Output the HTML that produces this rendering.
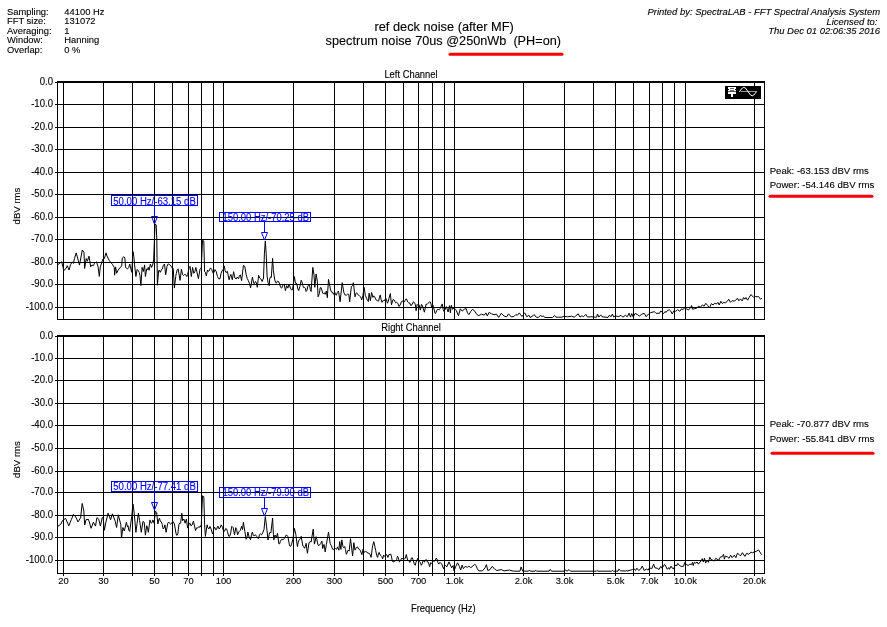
<!DOCTYPE html>
<html><head><meta charset="utf-8"><style>
html,body{margin:0;padding:0;background:#fff;width:887px;height:627px;overflow:hidden}
svg{display:block;will-change:transform}
rect{shape-rendering:crispEdges}
text{stroke-width:0.12px}
</style></head><body>
<svg width="887" height="627" viewBox="0 0 887 627" font-family='"Liberation Sans", sans-serif'><rect x="57" y="81" width="708" height="2" fill="#000"/>
<rect x="57" y="319" width="708" height="1" fill="#000"/>
<rect x="57" y="81" width="1" height="239" fill="#000"/>
<rect x="764" y="81" width="1" height="239" fill="#000"/>
<rect x="57" y="82" width="707" height="1" fill="#000"/>
<rect x="55" y="82" width="2" height="1" fill="#000"/>
<rect x="57" y="104" width="707" height="1" fill="#000"/>
<rect x="55" y="104" width="2" height="1" fill="#000"/>
<rect x="57" y="127" width="707" height="1" fill="#000"/>
<rect x="55" y="127" width="2" height="1" fill="#000"/>
<rect x="57" y="149" width="707" height="1" fill="#000"/>
<rect x="55" y="149" width="2" height="1" fill="#000"/>
<rect x="57" y="172" width="707" height="1" fill="#000"/>
<rect x="55" y="172" width="2" height="1" fill="#000"/>
<rect x="57" y="194" width="707" height="1" fill="#000"/>
<rect x="55" y="194" width="2" height="1" fill="#000"/>
<rect x="57" y="217" width="707" height="1" fill="#000"/>
<rect x="55" y="217" width="2" height="1" fill="#000"/>
<rect x="57" y="239" width="707" height="1" fill="#000"/>
<rect x="55" y="239" width="2" height="1" fill="#000"/>
<rect x="57" y="262" width="707" height="1" fill="#000"/>
<rect x="55" y="262" width="2" height="1" fill="#000"/>
<rect x="57" y="284" width="707" height="1" fill="#000"/>
<rect x="55" y="284" width="2" height="1" fill="#000"/>
<rect x="57" y="307" width="707" height="1" fill="#000"/>
<rect x="55" y="307" width="2" height="1" fill="#000"/>
<rect x="63" y="81" width="1" height="239" fill="#000"/>
<rect x="103" y="81" width="1" height="239" fill="#000"/>
<rect x="132" y="81" width="1" height="239" fill="#000"/>
<rect x="154" y="81" width="1" height="239" fill="#000"/>
<rect x="172" y="81" width="1" height="239" fill="#000"/>
<rect x="188" y="81" width="1" height="239" fill="#000"/>
<rect x="201" y="81" width="1" height="239" fill="#000"/>
<rect x="213" y="81" width="1" height="239" fill="#000"/>
<rect x="223" y="81" width="1" height="239" fill="#000"/>
<rect x="293" y="81" width="1" height="239" fill="#000"/>
<rect x="334" y="81" width="1" height="239" fill="#000"/>
<rect x="363" y="81" width="1" height="239" fill="#000"/>
<rect x="385" y="81" width="1" height="239" fill="#000"/>
<rect x="403" y="81" width="1" height="239" fill="#000"/>
<rect x="418" y="81" width="1" height="239" fill="#000"/>
<rect x="432" y="81" width="1" height="239" fill="#000"/>
<rect x="444" y="81" width="1" height="239" fill="#000"/>
<rect x="454" y="81" width="1" height="239" fill="#000"/>
<rect x="523" y="81" width="1" height="239" fill="#000"/>
<rect x="564" y="81" width="1" height="239" fill="#000"/>
<rect x="593" y="81" width="1" height="239" fill="#000"/>
<rect x="615" y="81" width="1" height="239" fill="#000"/>
<rect x="633" y="81" width="1" height="239" fill="#000"/>
<rect x="649" y="81" width="1" height="239" fill="#000"/>
<rect x="662" y="81" width="1" height="239" fill="#000"/>
<rect x="674" y="81" width="1" height="239" fill="#000"/>
<rect x="685" y="81" width="1" height="239" fill="#000"/>
<rect x="754" y="81" width="1" height="239" fill="#000"/>
<rect x="57" y="335" width="708" height="2" fill="#000"/>
<rect x="57" y="573" width="708" height="1" fill="#000"/>
<rect x="57" y="335" width="1" height="239" fill="#000"/>
<rect x="764" y="335" width="1" height="239" fill="#000"/>
<rect x="57" y="336" width="707" height="1" fill="#000"/>
<rect x="55" y="336" width="2" height="1" fill="#000"/>
<rect x="57" y="358" width="707" height="1" fill="#000"/>
<rect x="55" y="358" width="2" height="1" fill="#000"/>
<rect x="57" y="380" width="707" height="1" fill="#000"/>
<rect x="55" y="380" width="2" height="1" fill="#000"/>
<rect x="57" y="403" width="707" height="1" fill="#000"/>
<rect x="55" y="403" width="2" height="1" fill="#000"/>
<rect x="57" y="425" width="707" height="1" fill="#000"/>
<rect x="55" y="425" width="2" height="1" fill="#000"/>
<rect x="57" y="448" width="707" height="1" fill="#000"/>
<rect x="55" y="448" width="2" height="1" fill="#000"/>
<rect x="57" y="471" width="707" height="1" fill="#000"/>
<rect x="55" y="471" width="2" height="1" fill="#000"/>
<rect x="57" y="492" width="707" height="1" fill="#000"/>
<rect x="55" y="492" width="2" height="1" fill="#000"/>
<rect x="57" y="515" width="707" height="1" fill="#000"/>
<rect x="55" y="515" width="2" height="1" fill="#000"/>
<rect x="57" y="537" width="707" height="1" fill="#000"/>
<rect x="55" y="537" width="2" height="1" fill="#000"/>
<rect x="57" y="560" width="707" height="1" fill="#000"/>
<rect x="55" y="560" width="2" height="1" fill="#000"/>
<rect x="63" y="335" width="1" height="239" fill="#000"/>
<rect x="63" y="574" width="1" height="2" fill="#000"/>
<rect x="103" y="335" width="1" height="239" fill="#000"/>
<rect x="103" y="574" width="1" height="2" fill="#000"/>
<rect x="132" y="335" width="1" height="239" fill="#000"/>
<rect x="132" y="574" width="1" height="2" fill="#000"/>
<rect x="154" y="335" width="1" height="239" fill="#000"/>
<rect x="154" y="574" width="1" height="2" fill="#000"/>
<rect x="172" y="335" width="1" height="239" fill="#000"/>
<rect x="172" y="574" width="1" height="2" fill="#000"/>
<rect x="188" y="335" width="1" height="239" fill="#000"/>
<rect x="188" y="574" width="1" height="2" fill="#000"/>
<rect x="201" y="335" width="1" height="239" fill="#000"/>
<rect x="201" y="574" width="1" height="2" fill="#000"/>
<rect x="213" y="335" width="1" height="239" fill="#000"/>
<rect x="213" y="574" width="1" height="2" fill="#000"/>
<rect x="223" y="335" width="1" height="239" fill="#000"/>
<rect x="223" y="574" width="1" height="2" fill="#000"/>
<rect x="293" y="335" width="1" height="239" fill="#000"/>
<rect x="293" y="574" width="1" height="2" fill="#000"/>
<rect x="334" y="335" width="1" height="239" fill="#000"/>
<rect x="334" y="574" width="1" height="2" fill="#000"/>
<rect x="363" y="335" width="1" height="239" fill="#000"/>
<rect x="363" y="574" width="1" height="2" fill="#000"/>
<rect x="385" y="335" width="1" height="239" fill="#000"/>
<rect x="385" y="574" width="1" height="2" fill="#000"/>
<rect x="403" y="335" width="1" height="239" fill="#000"/>
<rect x="403" y="574" width="1" height="2" fill="#000"/>
<rect x="418" y="335" width="1" height="239" fill="#000"/>
<rect x="418" y="574" width="1" height="2" fill="#000"/>
<rect x="432" y="335" width="1" height="239" fill="#000"/>
<rect x="432" y="574" width="1" height="2" fill="#000"/>
<rect x="444" y="335" width="1" height="239" fill="#000"/>
<rect x="444" y="574" width="1" height="2" fill="#000"/>
<rect x="454" y="335" width="1" height="239" fill="#000"/>
<rect x="454" y="574" width="1" height="2" fill="#000"/>
<rect x="523" y="335" width="1" height="239" fill="#000"/>
<rect x="523" y="574" width="1" height="2" fill="#000"/>
<rect x="564" y="335" width="1" height="239" fill="#000"/>
<rect x="564" y="574" width="1" height="2" fill="#000"/>
<rect x="593" y="335" width="1" height="239" fill="#000"/>
<rect x="593" y="574" width="1" height="2" fill="#000"/>
<rect x="615" y="335" width="1" height="239" fill="#000"/>
<rect x="615" y="574" width="1" height="2" fill="#000"/>
<rect x="633" y="335" width="1" height="239" fill="#000"/>
<rect x="633" y="574" width="1" height="2" fill="#000"/>
<rect x="649" y="335" width="1" height="239" fill="#000"/>
<rect x="649" y="574" width="1" height="2" fill="#000"/>
<rect x="662" y="335" width="1" height="239" fill="#000"/>
<rect x="662" y="574" width="1" height="2" fill="#000"/>
<rect x="674" y="335" width="1" height="239" fill="#000"/>
<rect x="674" y="574" width="1" height="2" fill="#000"/>
<rect x="685" y="335" width="1" height="239" fill="#000"/>
<rect x="685" y="574" width="1" height="2" fill="#000"/>
<rect x="754" y="335" width="1" height="239" fill="#000"/>
<rect x="754" y="574" width="1" height="2" fill="#000"/>
<text transform="translate(53 85.4) scale(1 1.08)" x="0" y="0" font-size="9.6" text-anchor="end" fill="#000" stroke="#000"  >0.0</text>
<text transform="translate(53 107.4) scale(1 1.08)" x="0" y="0" font-size="9.6" text-anchor="end" fill="#000" stroke="#000"  >-10.0</text>
<text transform="translate(53 130.4) scale(1 1.08)" x="0" y="0" font-size="9.6" text-anchor="end" fill="#000" stroke="#000"  >-20.0</text>
<text transform="translate(53 152.4) scale(1 1.08)" x="0" y="0" font-size="9.6" text-anchor="end" fill="#000" stroke="#000"  >-30.0</text>
<text transform="translate(53 175.4) scale(1 1.08)" x="0" y="0" font-size="9.6" text-anchor="end" fill="#000" stroke="#000"  >-40.0</text>
<text transform="translate(53 197.4) scale(1 1.08)" x="0" y="0" font-size="9.6" text-anchor="end" fill="#000" stroke="#000"  >-50.0</text>
<text transform="translate(53 220.4) scale(1 1.08)" x="0" y="0" font-size="9.6" text-anchor="end" fill="#000" stroke="#000"  >-60.0</text>
<text transform="translate(53 242.4) scale(1 1.08)" x="0" y="0" font-size="9.6" text-anchor="end" fill="#000" stroke="#000"  >-70.0</text>
<text transform="translate(53 265.4) scale(1 1.08)" x="0" y="0" font-size="9.6" text-anchor="end" fill="#000" stroke="#000"  >-80.0</text>
<text transform="translate(53 287.4) scale(1 1.08)" x="0" y="0" font-size="9.6" text-anchor="end" fill="#000" stroke="#000"  >-90.0</text>
<text transform="translate(53 310.4) scale(1 1.08)" x="0" y="0" font-size="9.6" text-anchor="end" fill="#000" stroke="#000"  >-100.0</text>
<text transform="translate(53 339.4) scale(1 1.08)" x="0" y="0" font-size="9.6" text-anchor="end" fill="#000" stroke="#000"  >0.0</text>
<text transform="translate(53 361.4) scale(1 1.08)" x="0" y="0" font-size="9.6" text-anchor="end" fill="#000" stroke="#000"  >-10.0</text>
<text transform="translate(53 383.4) scale(1 1.08)" x="0" y="0" font-size="9.6" text-anchor="end" fill="#000" stroke="#000"  >-20.0</text>
<text transform="translate(53 406.4) scale(1 1.08)" x="0" y="0" font-size="9.6" text-anchor="end" fill="#000" stroke="#000"  >-30.0</text>
<text transform="translate(53 428.4) scale(1 1.08)" x="0" y="0" font-size="9.6" text-anchor="end" fill="#000" stroke="#000"  >-40.0</text>
<text transform="translate(53 451.4) scale(1 1.08)" x="0" y="0" font-size="9.6" text-anchor="end" fill="#000" stroke="#000"  >-50.0</text>
<text transform="translate(53 474.4) scale(1 1.08)" x="0" y="0" font-size="9.6" text-anchor="end" fill="#000" stroke="#000"  >-60.0</text>
<text transform="translate(53 495.4) scale(1 1.08)" x="0" y="0" font-size="9.6" text-anchor="end" fill="#000" stroke="#000"  >-70.0</text>
<text transform="translate(53 518.4) scale(1 1.08)" x="0" y="0" font-size="9.6" text-anchor="end" fill="#000" stroke="#000"  >-80.0</text>
<text transform="translate(53 540.4) scale(1 1.08)" x="0" y="0" font-size="9.6" text-anchor="end" fill="#000" stroke="#000"  >-90.0</text>
<text transform="translate(53 563.4) scale(1 1.08)" x="0" y="0" font-size="9.6" text-anchor="end" fill="#000" stroke="#000"  >-100.0</text>
<text transform="translate(63.5 584.2) scale(1 1.03)" x="0" y="0" font-size="9.4" text-anchor="middle" fill="#000" stroke="#000"  >20</text>
<text transform="translate(103.5 584.2) scale(1 1.03)" x="0" y="0" font-size="9.4" text-anchor="middle" fill="#000" stroke="#000"  >30</text>
<text transform="translate(154.5 584.2) scale(1 1.03)" x="0" y="0" font-size="9.4" text-anchor="middle" fill="#000" stroke="#000"  >50</text>
<text transform="translate(188.5 584.2) scale(1 1.03)" x="0" y="0" font-size="9.4" text-anchor="middle" fill="#000" stroke="#000"  >70</text>
<text transform="translate(223.5 584.2) scale(1 1.03)" x="0" y="0" font-size="9.4" text-anchor="middle" fill="#000" stroke="#000"  >100</text>
<text transform="translate(293.5 584.2) scale(1 1.03)" x="0" y="0" font-size="9.4" text-anchor="middle" fill="#000" stroke="#000"  >200</text>
<text transform="translate(334.5 584.2) scale(1 1.03)" x="0" y="0" font-size="9.4" text-anchor="middle" fill="#000" stroke="#000"  >300</text>
<text transform="translate(385.5 584.2) scale(1 1.03)" x="0" y="0" font-size="9.4" text-anchor="middle" fill="#000" stroke="#000"  >500</text>
<text transform="translate(418.5 584.2) scale(1 1.03)" x="0" y="0" font-size="9.4" text-anchor="middle" fill="#000" stroke="#000"  >700</text>
<text transform="translate(454.5 584.2) scale(1 1.03)" x="0" y="0" font-size="9.4" text-anchor="middle" fill="#000" stroke="#000"  >1.0k</text>
<text transform="translate(523.5 584.2) scale(1 1.03)" x="0" y="0" font-size="9.4" text-anchor="middle" fill="#000" stroke="#000"  >2.0k</text>
<text transform="translate(564.5 584.2) scale(1 1.03)" x="0" y="0" font-size="9.4" text-anchor="middle" fill="#000" stroke="#000"  >3.0k</text>
<text transform="translate(615.5 584.2) scale(1 1.03)" x="0" y="0" font-size="9.4" text-anchor="middle" fill="#000" stroke="#000"  >5.0k</text>
<text transform="translate(649.5 584.2) scale(1 1.03)" x="0" y="0" font-size="9.4" text-anchor="middle" fill="#000" stroke="#000"  >7.0k</text>
<text transform="translate(685.5 584.2) scale(1 1.03)" x="0" y="0" font-size="9.4" text-anchor="middle" fill="#000" stroke="#000"  >10.0k</text>
<text transform="translate(754.5 584.2) scale(1 1.03)" x="0" y="0" font-size="9.4" text-anchor="middle" fill="#000" stroke="#000"  >20.0k</text>
<text transform="translate(411 611.7) scale(1 1.08)" x="0" y="0" font-size="9.4" text-anchor="start" fill="#000" stroke="#000"  >Frequency (Hz)</text>
<text transform="translate(20,206) rotate(-90)" stroke="#000" font-size="9.6" text-anchor="middle">dBV rms</text>
<text transform="translate(20,459.5) rotate(-90)" stroke="#000" font-size="9.6" text-anchor="middle">dBV rms</text>
<text transform="translate(411 77.7) scale(1 1.08)" x="0" y="0" font-size="9.4" text-anchor="middle" fill="#000" stroke="#000"  >Left Channel</text>
<text transform="translate(411 330.9) scale(1 1.08)" x="0" y="0" font-size="9.4" text-anchor="middle" fill="#000" stroke="#000"  >Right Channel</text>
<text transform="translate(7 14.8) scale(1 1.0)" x="0" y="0" font-size="9.4" text-anchor="start" fill="#000" stroke="#000"  >Sampling:</text>
<text transform="translate(64.3 14.8) scale(1 1.0)" x="0" y="0" font-size="9.4" text-anchor="start" fill="#000" stroke="#000"  >44100 Hz</text>
<text transform="translate(7 24.23) scale(1 1.0)" x="0" y="0" font-size="9.4" text-anchor="start" fill="#000" stroke="#000"  >FFT size:</text>
<text transform="translate(64.3 24.23) scale(1 1.0)" x="0" y="0" font-size="9.4" text-anchor="start" fill="#000" stroke="#000"  >131072</text>
<text transform="translate(7 33.66) scale(1 1.0)" x="0" y="0" font-size="9.4" text-anchor="start" fill="#000" stroke="#000"  >Averaging:</text>
<text transform="translate(64.3 33.66) scale(1 1.0)" x="0" y="0" font-size="9.4" text-anchor="start" fill="#000" stroke="#000"  >1</text>
<text transform="translate(7 43.09) scale(1 1.0)" x="0" y="0" font-size="9.4" text-anchor="start" fill="#000" stroke="#000"  >Window:</text>
<text transform="translate(64.3 43.09) scale(1 1.0)" x="0" y="0" font-size="9.4" text-anchor="start" fill="#000" stroke="#000"  >Hanning</text>
<text transform="translate(7 52.519999999999996) scale(1 1.0)" x="0" y="0" font-size="9.4" text-anchor="start" fill="#000" stroke="#000"  >Overlap:</text>
<text transform="translate(64.3 52.519999999999996) scale(1 1.0)" x="0" y="0" font-size="9.4" text-anchor="start" fill="#000" stroke="#000"  >0 %</text>
<text stroke="#000" x="374.4" y="30.8" font-size="13.6" textLength="139.5" lengthAdjust="spacingAndGlyphs">ref deck noise (after MF)</text>
<text stroke="#000" x="325.6" y="44.5" font-size="13.6" textLength="235.4" lengthAdjust="spacingAndGlyphs">spectrum noise 70us @250nWb  (PH=on)</text>
<text transform="translate(880 14.7) scale(1 1.0)" x="0" y="0" font-size="9.45" text-anchor="end" fill="#000" stroke="#000" font-style="italic" >Printed by: SpectraLAB - FFT Spectral Analysis System</text>
<text transform="translate(880 24.6) scale(1 1.0)" x="0" y="0" font-size="9.45" text-anchor="end" fill="#000" stroke="#000" font-style="italic" >Licensed to: </text>
<text transform="translate(880 33.5) scale(1 1.0)" x="0" y="0" font-size="9.45" text-anchor="end" fill="#000" stroke="#000" font-style="italic" >Thu Dec 01 02:06:35 2016</text>
<line x1="450" y1="54.2" x2="562" y2="54.2" stroke="#f00" stroke-width="3" stroke-linecap="round"/>
<line x1="770" y1="196.3" x2="872" y2="196.3" stroke="#f00" stroke-width="3" stroke-linecap="round"/>
<line x1="772" y1="453.3" x2="873" y2="453.3" stroke="#f00" stroke-width="3" stroke-linecap="round"/>
<text transform="translate(769.7 173.9) scale(1 1.0)" x="0" y="0" font-size="9.6" text-anchor="start" fill="#000" stroke="#000"  >Peak: -63.153 dBV rms</text>
<text transform="translate(769.7 188) scale(1 1.0)" x="0" y="0" font-size="9.6" text-anchor="start" fill="#000" stroke="#000"  >Power: -54.146 dBV rms</text>
<text transform="translate(769.7 427.2) scale(1 1.0)" x="0" y="0" font-size="9.6" text-anchor="start" fill="#000" stroke="#000"  >Peak: -70.877 dBV rms</text>
<text transform="translate(769.7 442) scale(1 1.0)" x="0" y="0" font-size="9.6" text-anchor="start" fill="#000" stroke="#000"  >Power: -55.841 dBV rms</text>
<rect x="111.5" y="195.5" width="86" height="10" fill="none" stroke="#00f" stroke-width="1" style="shape-rendering:crispEdges"/>
<text x="113.3" y="204.8" font-size="10" fill="#00f" stroke="#00f" textLength="82.5" lengthAdjust="spacingAndGlyphs">50.00 Hz/-63.15 dB</text>
<rect x="154" y="206" width="1" height="11" fill="#00f"/>
<path d="M151.5 216.5 L157.5 216.5 L154.5 224 Z" fill="none" stroke="#00f" stroke-width="1"/>
<rect x="219.5" y="212.5" width="91" height="9" fill="none" stroke="#00f" stroke-width="1" style="shape-rendering:crispEdges"/>
<text x="222.5" y="220.9" font-size="10" fill="#00f" stroke="#00f" textLength="86.5" lengthAdjust="spacingAndGlyphs">150.00 Hz/-70.25 dB</text>
<rect x="264" y="222" width="1" height="11" fill="#00f"/>
<path d="M261.5 232.5 L267.5 232.5 L264.5 240 Z" fill="none" stroke="#00f" stroke-width="1"/>
<rect x="111.5" y="481.5" width="86" height="10" fill="none" stroke="#00f" stroke-width="1" style="shape-rendering:crispEdges"/>
<text x="113.3" y="490.2" font-size="10" fill="#00f" stroke="#00f" textLength="82.5" lengthAdjust="spacingAndGlyphs">50.00 Hz/-77.41 dB</text>
<rect x="154" y="492" width="1" height="11" fill="#00f"/>
<path d="M151.5 502.5 L157.5 502.5 L154.5 510 Z" fill="none" stroke="#00f" stroke-width="1"/>
<rect x="219.5" y="487.5" width="91" height="10" fill="none" stroke="#00f" stroke-width="1" style="shape-rendering:crispEdges"/>
<text x="222.5" y="496.2" font-size="10" fill="#00f" stroke="#00f" textLength="86.5" lengthAdjust="spacingAndGlyphs">150.00 Hz/-79.90 dB</text>
<rect x="264" y="498" width="1" height="11" fill="#00f"/>
<path d="M261.5 508.5 L267.5 508.5 L264.5 516 Z" fill="none" stroke="#00f" stroke-width="1"/>
<g>
<rect x="725" y="86" width="36" height="13" fill="#000"/>
<rect x="728" y="87" width="8" height="1" fill="#fff"/>
<rect x="728" y="88" width="2" height="1" fill="#fff"/>
<rect x="730" y="88" width="4" height="1" fill="#666"/>
<rect x="734" y="88" width="2" height="1" fill="#fff"/>
<rect x="729" y="89" width="6" height="1" fill="#fff"/>
<rect x="728" y="90" width="2" height="1" fill="#fff"/>
<rect x="730" y="90" width="4" height="1" fill="#777"/>
<rect x="734" y="90" width="2" height="1" fill="#fff"/>
<rect x="728" y="91" width="8" height="1" fill="#555"/>
<rect x="728" y="92" width="8" height="2" fill="#fff"/>
<rect x="731" y="94" width="2" height="3" fill="#fff"/>
<path d="M740.7 91.5 H756.7" stroke="#999" stroke-width="1" fill="none"/>
<path d="M739.3 91.8 L742.4 88 Q743.8 86.8 745.4 88 L750.3 94.8 Q752.3 96.8 753.8 95 L756.7 91.5" fill="none" stroke="#fff" stroke-width="1"/>
</g>
<path d="M57.5 263.5 L57.8 264.6 L61.7 261.8 L63.9 270.7 L66.2 268.0 L67.3 265.7 L69.0 270.0 L70.6 264.6 L72.3 261.8 L73.4 263.5 L74.5 258.5 L76.2 252.9 L77.3 256.8 L79.5 265.1 L82.3 250.0 L84.0 252.3 L84.6 268.5 L86.2 258.5 L87.4 261.2 L89.0 256.2 L90.7 266.8 L92.0 265.0 L93.3 265.6 L94.6 263.1 L96.5 261.8 L98.1 266.9 L99.3 276.4 L100.3 266.9 L101.6 263.1 L102.8 259.2 L104.4 258.6 L106.0 252.8 L107.0 256.0 L109.2 260.5 L112.4 264.3 L114.3 267.5 L114.6 275.2 L115.6 266.9 L116.6 273.3 L118.2 270.1 L120.1 267.5 L121.7 266.2 L122.3 258.0 L123.9 256.7 L124.9 258.0 L125.5 267.5 L127.7 268.8 L128.0 268.6 L128.8 267.4 L129.7 264.0 L131.7 272.3 L133.0 251.6 L133.8 256.6 L134.6 264.9 L135.9 276.5 L137.1 269.4 L138.4 270.7 L139.2 272.3 L140.0 275.7 L140.9 285.6 L142.1 267.4 L143.3 271.5 L144.6 264.9 L145.4 276.5 L146.7 269.0 L147.5 269.5 L148.3 267.4 L149.1 270.3 L150.4 264.0 L151.6 267.4 L152.9 264.0 L153.7 259.1 L154.6 235.0 L155.1 224.3 L156.2 224.8 L156.8 240.0 L157.4 285.2 L158.7 270.3 L159.5 270.4 L160.3 272.3 L161.6 269.4 L162.4 268.8 L163.2 265.7 L164.5 264.0 L165.7 274.8 L167.0 266.5 L167.8 264.2 L168.6 264.0 L169.9 264.9 L171.1 266.1 L172.1 268.0 L173.2 268.2 L174.4 288.1 L175.7 276.5 L176.3 273.3 L177.2 269.8 L178.1 268.8 L180.1 280.4 L181.4 269.2 L182.6 274.6 L183.4 275.4 L184.3 274.6 L185.6 274.5 L186.8 276.6 L187.6 274.6 L188.4 270.8 L189.2 267.7 L190.1 266.3 L191.3 276.6 L192.6 267.5 L193.8 273.3 L194.9 271.5 L195.9 267.5 L198.4 278.7 L200.0 269.2 L201.3 267.9 L202.5 240.1 L203.8 241.0 L204.6 271.7 L205.4 272.3 L206.3 275.8 L207.5 270.0 L208.3 271.3 L209.2 270.8 L210.4 267.9 L211.7 269.4 L212.9 272.9 L213.9 272.6 L215.0 269.6 L216.2 271.5 L217.5 276.6 L218.8 278.9 L220.0 278.7 L221.0 273.6 L222.0 270.8 L222.9 270.4 L224.2 265.9 L225.1 270.8 L226.0 272.6 L227.4 271.3 L229.1 279.8 L230.0 276.3 L230.9 274.4 L232.3 279.8 L233.6 271.7 L234.9 278.0 L236.1 279.0 L237.2 277.1 L238.5 278.9 L239.4 275.8 L240.3 274.8 L241.6 280.6 L243.4 265.5 L244.8 266.4 L246.1 274.4 L247.2 278.4 L248.3 280.6 L249.4 283.3 L250.6 287.8 L252.4 277.1 L253.7 283.3 L254.6 283.4 L255.5 281.5 L256.4 282.9 L257.3 287.3 L258.6 275.3 L259.7 278.0 L260.8 278.9 L262.2 281.5 L263.5 278.0 L264.4 253.9 L265.3 240.9 L266.2 253.9 L267.1 276.2 L268.0 282.3 L269.2 285.7 L269.7 279.0 L270.5 276.9 L271.3 277.4 L272.6 258.3 L273.4 270.7 L274.6 279.0 L275.5 282.4 L276.3 283.2 L277.5 281.1 L278.6 281.5 L279.6 284.0 L280.6 287.3 L281.7 288.1 L282.9 285.2 L284.2 284.0 L285.4 290.6 L286.7 285.7 L287.9 288.1 L289.1 284.0 L290.4 288.1 L291.4 289.8 L292.5 289.8 L294.4 276.5 L295.4 283.2 L296.2 283.0 L297.0 284.8 L297.9 289.0 L298.7 290.6 L299.9 286.5 L301.2 280.3 L302.0 281.9 L302.8 285.7 L303.6 287.6 L304.5 287.3 L305.3 288.1 L306.1 291.5 L307.0 290.2 L307.8 286.5 L308.6 284.6 L309.5 284.8 L310.3 289.6 L311.1 291.5 L312.8 267.4 L314.0 274.9 L314.8 287.3 L316.1 274.0 L317.3 281.1 L318.1 296.8 L319.4 293.5 L320.2 287.7 L321.0 287.6 L321.9 290.2 L322.7 293.0 L323.5 293.9 L324.4 292.8 L325.2 294.3 L326.4 291.0 L327.3 297.7 L328.5 279.4 L329.8 286.0 L330.6 289.9 L331.4 291.9 L332.4 292.0 L333.5 294.3 L334.7 291.9 L335.5 294.6 L336.4 295.2 L337.4 292.3 L338.5 291.0 L340.1 301.8 L342.2 282.7 L343.9 292.7 L345.1 295.1 L346.3 295.2 L347.6 294.1 L348.8 294.3 L349.7 301.8 L351.3 286.9 L352.4 285.7 L353.4 282.7 L355.0 296.8 L355.9 293.7 L356.7 292.7 L357.8 294.6 L358.8 295.2 L360.0 296.5 L360.9 297.3 L361.7 299.9 L362.9 295.7 L364.1 287.4 L365.4 295.7 L366.6 298.2 L367.5 300.5 L368.3 301.5 L369.1 293.2 L370.4 300.7 L371.6 292.4 L372.9 297.4 L373.7 295.9 L374.5 296.5 L375.9 299.7 L377.4 300.7 L378.7 301.1 L379.5 297.1 L380.3 294.9 L381.1 299.7 L382.0 302.3 L382.8 300.7 L383.6 300.7 L384.6 300.5 L385.7 298.2 L386.5 299.7 L387.4 303.2 L388.2 301.6 L389.0 298.2 L390.3 293.6 L391.5 304.8 L392.8 299.9 L393.8 299.6 L394.8 301.1 L395.6 302.8 L396.5 302.3 L397.8 303.2 L399.0 306.5 L400.2 304.9 L401.5 301.5 L402.5 300.9 L403.5 302.3 L404.4 301.9 L405.2 300.3 L406.0 298.8 L406.8 299.4 L407.8 302.1 L408.7 302.8 L409.7 303.0 L410.7 305.5 L412.0 304.7 L413.4 301.8 L414.4 302.5 L415.4 304.8 L416.1 310.8 L417.1 304.4 L418.1 305.4 L419.1 304.8 L420.4 310.1 L421.4 304.4 L422.2 305.2 L423.1 308.1 L424.4 312.2 L426.1 304.1 L427.1 304.4 L428.1 303.4 L429.3 301.9 L430.5 302.1 L431.8 307.5 L433.1 305.5 L435.1 313.5 L436.0 312.7 L436.8 310.5 L437.6 309.3 L438.5 309.5 L439.2 309.8 L440.0 308.8 L442.3 303.9 L443.2 309.7 L444.1 311.5 L446.3 306.6 L448.1 312.0 L449.5 305.7 L450.4 312.9 L451.3 305.2 L452.6 309.3 L454.0 307.9 L455.8 309.7 L458.5 315.6 L460.3 308.8 L462.1 311.1 L464.3 309.3 L466.1 308.4 L467.5 312.9 L468.9 314.7 L470.7 311.5 L472.5 309.3 L474.3 310.6 L477.0 314.7 L478.8 315.6 L481.5 314.2 L484.2 315.1 L486.0 312.9 L487.3 316.0 L489.1 312.4 L491.4 313.8 L494.1 314.7 L496.4 314.2 L498.6 317.4 L501.3 313.3 L504.0 316.0 L506.7 316.9 L508.5 313.8 L511.2 316.9 L513.9 316.5 L515.7 314.7 L517.5 315.1 L519.4 312.9 L520.5 314.7 L522.0 316.5 L524.7 312.8 L526.8 316.8 L528.8 315.1 L530.1 317.5 L532.9 315.8 L534.2 314.5 L536.2 317.2 L538.3 317.5 L540.3 315.5 L542.3 316.5 L543.3 315.8 L544.7 317.5 L552.5 317.6 L554.5 315.5 L555.9 317.2 L558.6 317.2 L562.0 317.2 L564.0 316.2 L567.4 316.8 L571.4 316.2 L574.1 317.2 L575.5 316.2 L578.2 313.8 L580.0 317.1 L581.8 315.8 L583.6 316.7 L585.8 314.4 L587.6 317.1 L590.8 316.7 L596.6 317.3 L597.5 314.0 L598.9 317.1 L600.7 314.9 L602.0 316.7 L608.0 317.5 L609.3 315.3 L611.1 316.7 L612.4 314.0 L613.8 317.1 L615.6 315.8 L618.3 316.7 L621.0 315.3 L622.8 317.1 L625.5 315.3 L627.3 316.7 L629.1 313.1 L630.5 317.1 L631.8 313.5 L633.2 317.1 L635.0 313.5 L637.2 314.4 L639.5 316.2 L641.7 314.0 L644.4 313.5 L646.2 316.7 L648.5 314.0 L650.7 312.6 L654.3 311.7 L655.5 312.6 L656.1 313.3 L659.5 313.3 L660.8 310.9 L662.2 312.3 L663.5 313.7 L664.9 311.6 L666.2 312.3 L667.6 310.3 L669.3 309.9 L670.6 310.9 L672.3 314.0 L673.7 310.9 L675.7 311.3 L677.7 309.6 L679.8 311.3 L681.5 308.9 L683.2 309.6 L684.5 307.9 L686.5 308.9 L688.6 309.9 L690.6 307.6 L691.6 305.5 L692.6 309.3 L694.7 308.6 L696.7 308.2 L698.4 306.2 L700.4 307.2 L702.4 304.9 L704.1 306.2 L705.8 303.3 L707.7 305.6 L709.4 308.0 L711.4 303.6 L713.1 305.0 L714.5 303.3 L716.2 303.9 L718.2 302.6 L719.2 305.0 L720.9 301.2 L722.3 303.6 L723.9 302.3 L725.3 302.9 L727.0 301.6 L728.7 299.2 L730.4 302.3 L732.1 300.6 L734.1 301.2 L735.8 300.2 L737.5 298.2 L738.8 300.9 L740.5 298.9 L742.2 300.9 L743.6 297.5 L744.9 299.2 L745.9 297.5 L747.6 300.2 L749.3 297.2 L751.0 294.5 L753.7 297.5 L755.4 296.5 L757.1 296.8 L758.5 296.5 L760.5 299.2 L761.8 298.2" fill="none" stroke="#000" stroke-width="1.0" stroke-linejoin="round"/>
<path d="M57.5 526.5 L57.9 526.4 L60.8 524.2 L62.7 520.3 L65.6 518.4 L68.8 525.8 L71.3 519.7 L73.5 514.3 L75.8 517.1 L78.0 521.9 L80.6 517.8 L82.2 503.4 L83.8 510.8 L84.7 525.1 L86.0 519.7 L88.5 519.4 L91.1 528.3 L93.4 522.2 L95.5 526.1 L96.9 517.6 L98.7 519.1 L100.4 526.1 L102.2 517.6 L103.2 517.6 L104.3 530.3 L106.0 521.9 L108.1 513.1 L110.6 519.8 L112.4 513.8 L115.2 521.2 L116.6 527.5 L118.3 514.8 L120.8 524.7 L121.5 538.0 L122.9 527.5 L124.3 531.0 L126.4 522.2 L127.5 527.0 L128.0 525.7 L128.8 530.0 L129.7 531.5 L131.7 516.5 L133.0 504.1 L134.2 513.2 L135.9 532.3 L137.1 523.2 L138.4 513.2 L139.6 520.7 L141.3 532.3 L142.9 521.5 L144.2 522.3 L145.4 535.2 L146.7 525.7 L147.5 528.1 L148.3 532.3 L150.0 519.9 L151.2 523.2 L152.1 522.5 L152.9 519.9 L154.1 523.2 L155.4 511.1 L156.6 512.4 L157.9 524.0 L158.7 520.0 L159.5 518.2 L160.3 521.3 L161.2 521.5 L162.2 524.4 L163.2 529.0 L164.1 528.1 L164.9 524.8 L166.1 532.3 L167.8 523.2 L168.7 522.0 L169.5 523.2 L170.8 524.3 L172.0 522.3 L173.2 521.7 L174.4 524.0 L176.1 533.9 L176.9 535.4 L177.8 533.9 L178.9 524.8 L179.8 523.0 L180.6 523.2 L181.8 513.2 L182.6 520.7 L183.9 519.0 L185.1 523.2 L186.4 519.0 L187.6 528.1 L188.4 526.8 L189.3 523.2 L190.1 523.4 L190.9 525.7 L192.2 524.9 L193.4 521.1 L195.5 530.6 L196.6 527.8 L197.6 528.1 L198.8 526.5 L200.0 527.3 L201.3 524.8 L202.5 495.8 L203.8 496.6 L204.6 524.8 L205.4 536.4 L207.1 524.8 L207.9 527.8 L208.8 529.0 L210.0 526.5 L211.2 529.3 L212.5 533.9 L213.3 531.6 L214.1 527.3 L214.9 527.6 L215.8 529.8 L216.7 529.3 L217.5 526.5 L218.3 526.5 L219.1 529.0 L220.1 527.9 L221.2 524.8 L222.4 527.3 L223.7 531.5 L224.6 531.2 L225.6 528.6 L226.5 528.9 L227.4 531.3 L228.7 536.2 L229.6 536.3 L230.5 533.9 L231.8 526.3 L233.2 527.7 L234.5 534.8 L235.8 527.7 L236.7 529.7 L237.6 534.8 L239.0 531.7 L240.3 530.4 L241.6 526.3 L242.5 529.5 L243.4 522.3 L244.8 531.3 L246.1 539.3 L247.0 537.1 L247.9 532.1 L249.2 537.5 L250.6 539.7 L251.5 534.7 L252.4 532.1 L253.2 535.2 L254.1 535.7 L255.4 534.8 L256.8 536.6 L257.7 538.3 L258.6 538.4 L259.5 534.6 L260.4 533.9 L261.5 534.9 L262.6 533.0 L264.0 529.5 L265.3 516.5 L266.6 526.8 L268.0 540.0 L269.2 534.2 L270.0 532.1 L270.9 533.0 L272.6 518.0 L273.4 534.2 L273.8 540.0 L275.0 535.0 L276.3 537.5 L277.5 533.4 L278.8 543.7 L279.6 543.9 L280.4 541.2 L281.6 539.3 L282.9 539.6 L284.4 538.6 L285.8 535.4 L286.9 535.2 L287.9 536.7 L289.6 545.8 L290.6 546.3 L291.6 544.1 L292.9 539.2 L294.4 528.4 L295.8 534.2 L297.4 546.6 L298.2 542.5 L299.1 540.0 L300.1 539.0 L301.2 536.3 L302.8 545.8 L303.6 546.1 L304.5 548.3 L305.3 546.7 L306.1 543.3 L307.4 553.3 L309.0 542.9 L310.1 541.4 L311.1 542.1 L313.2 529.2 L314.4 544.1 L315.2 541.2 L316.1 536.7 L316.9 539.5 L317.7 544.0 L318.5 545.5 L319.4 545.2 L320.6 543.6 L321.9 541.1 L322.7 548.5 L324.0 544.4 L325.2 551.9 L326.4 544.4 L328.5 532.0 L330.2 543.6 L331.4 545.8 L332.7 549.4 L333.5 549.8 L334.3 548.5 L335.4 548.3 L336.4 549.4 L337.6 546.9 L338.9 550.2 L339.7 541.5 L340.9 549.4 L341.8 539.8 L343.0 546.9 L343.9 547.8 L344.7 546.5 L345.5 549.4 L346.3 554.3 L347.1 552.9 L348.0 550.2 L349.2 551.0 L350.5 538.6 L352.6 556.0 L353.8 542.7 L355.0 550.2 L356.2 547.8 L357.5 546.9 L358.6 549.0 L359.6 549.4 L360.5 551.0 L361.9 554.7 L363.1 549.0 L364.2 552.4 L365.5 551.4 L366.9 552.0 L367.9 553.3 L368.8 553.2 L370.0 554.2 L371.1 557.4 L372.6 545.9 L373.8 541.7 L375.7 550.5 L376.6 555.1 L377.6 557.4 L378.4 554.0 L379.1 552.4 L380.1 555.0 L381.1 555.9 L381.9 556.7 L382.6 558.9 L383.7 555.1 L384.5 556.3 L385.3 556.2 L386.1 554.6 L386.8 554.7 L387.9 557.4 L389.1 554.3 L389.9 554.9 L390.6 553.9 L391.4 556.1 L392.2 560.5 L392.9 561.9 L393.7 562.0 L394.6 560.8 L395.6 560.8 L396.6 559.7 L397.5 556.2 L398.4 558.2 L399.4 562.0 L400.4 561.1 L401.3 558.9 L402.1 558.0 L402.9 558.9 L403.6 559.5 L404.4 558.9 L405.3 558.3 L406.3 554.5 L407.6 560.2 L408.7 560.4 L409.8 562.5 L410.6 561.4 L411.4 558.0 L412.2 557.7 L413.0 559.6 L414.1 563.5 L415.2 565.3 L416.0 562.2 L416.8 560.6 L417.8 558.3 L418.6 560.7 L419.4 561.5 L420.4 562.7 L421.3 565.3 L422.2 563.8 L423.2 560.2 L424.5 562.2 L425.4 560.0 L426.4 559.6 L427.4 562.0 L428.3 562.2 L429.6 566.6 L430.8 562.5 L432.1 563.8 L432.9 561.6 L433.7 560.9 L434.5 561.3 L435.3 560.2 L436.1 558.3 L436.9 558.6 L437.9 562.5 L438.8 564.1 L440.0 562.4 L441.8 564.2 L443.6 568.7 L445.0 565.1 L446.8 566.9 L449.0 561.9 L450.4 565.1 L451.7 567.8 L453.1 565.5 L454.0 570.9 L455.8 566.4 L457.6 562.8 L459.4 566.4 L460.7 570.0 L462.1 565.1 L463.4 568.7 L465.2 566.4 L467.5 567.3 L468.9 566.0 L470.7 567.8 L472.9 566.0 L474.7 564.2 L476.1 565.5 L477.0 568.2 L478.8 570.9 L482.4 570.9 L485.1 567.8 L486.4 564.6 L487.8 570.5 L490.0 569.6 L492.3 566.4 L494.6 569.1 L496.8 570.5 L501.3 569.6 L504.0 570.9 L509.4 570.0 L512.1 570.9 L514.8 571.2 L520.0 571.1 L521.1 566.9 L522.7 571.1 L528.5 571.2 L529.4 570.0 L530.3 571.2 L535.0 571.2 L535.7 570.3 L536.5 571.2 L549.0 571.2 L550.2 569.4 L551.5 571.2 L564.5 571.2 L565.5 570.0 L567.0 571.2 L569.1 569.6 L570.5 571.2 L596.5 571.2 L597.2 570.5 L598.0 571.2 L611.5 571.2 L612.5 570.5 L613.5 571.2 L618.0 571.2 L618.9 569.1 L620.7 570.8 L625.5 571.0 L626.1 570.5 L627.0 571.1 L632.4 569.6 L634.2 568.7 L635.5 570.5 L636.9 568.2 L638.7 570.5 L640.5 569.1 L642.3 566.0 L644.1 570.5 L646.4 569.1 L648.2 570.0 L649.5 567.8 L651.8 568.7 L653.6 564.2 L654.9 567.8 L657.2 568.2 L659.0 569.6 L660.8 566.4 L662.1 568.2 L664.4 564.6 L665.0 564.8 L667.3 569.3 L668.7 567.6 L669.5 569.3 L670.9 566.2 L672.3 568.2 L674.0 568.5 L674.9 565.4 L676.8 565.6 L677.7 563.4 L679.7 565.6 L681.3 566.5 L683.6 566.2 L684.7 562.5 L685.9 564.0 L688.1 565.6 L689.8 564.2 L691.5 564.5 L692.6 562.3 L693.2 565.6 L694.3 562.5 L695.7 563.1 L697.1 562.0 L698.3 564.2 L700.0 562.0 L701.1 560.9 L702.2 558.6 L703.3 562.0 L704.5 558.3 L705.6 563.1 L707.0 560.0 L708.4 562.3 L709.8 557.2 L710.9 559.4 L712.0 559.8 L714.2 561.1 L715.7 558.3 L718.8 560.1 L720.4 557.0 L722.2 556.7 L723.5 554.3 L724.4 559.2 L725.3 556.1 L727.2 556.7 L729.0 558.3 L730.6 555.2 L732.1 557.7 L734.3 555.2 L735.9 557.7 L737.4 553.3 L739.6 554.9 L740.5 555.8 L742.4 552.7 L744.9 556.4 L746.7 553.3 L748.9 554.3 L751.0 552.1 L752.6 552.7 L754.8 551.8 L756.6 551.2 L758.5 549.9 L761.6 554.6" fill="none" stroke="#000" stroke-width="1.0" stroke-linejoin="round"/></svg>
</body></html>
